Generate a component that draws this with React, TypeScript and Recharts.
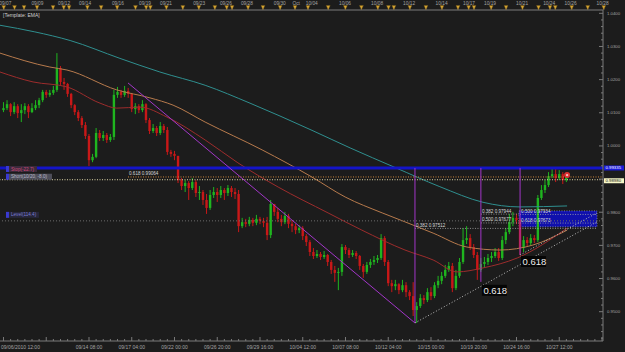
import React from 'react';
import { ComposedChart, Bar, Line, XAxis, YAxis, ReferenceLine, ReferenceArea, ReferenceDot } from 'recharts';

const BG = '#1c1c1c';
const AXIS = '#7a7a7a';
const TEXT = '#a4a4a4';
const BULL = '#1fb51f';
const BEAR = '#c81818';
const PURPLE = '#a236c8';
const FONT = '"Liberation Sans", Arial, sans-serif';

// 4H candles, open = previous close
const firstOpen = 1.0108;
const closes = [
  1.0114, 1.0126, 1.0102, 1.0120, 1.0099, 1.0108, 1.0120, 1.0102, 1.0114, 1.0123,
  1.0138, 1.0163, 1.0154, 1.0160, 1.0169, 1.0235, 1.0193, 1.0187, 1.0157, 1.0123,
  1.0102, 1.0084, 1.0063, 1.0030, 0.9957, 0.9967, 1.0039, 1.0024, 1.0033, 1.0018,
  1.0027, 1.0154, 1.0163, 1.0154, 1.0166, 1.0157, 1.0111, 1.0120, 1.0108, 1.0126,
  1.0078, 1.0045, 1.0054, 1.0039, 1.0060, 1.0048, 0.9982, 0.9976, 0.9970, 0.9897,
  0.9879, 0.9888, 0.9873, 0.9891, 0.9858, 0.9861, 0.9837, 0.9813, 0.9852, 0.9861,
  0.9852, 0.9867, 0.9858, 0.9873, 0.9861, 0.9855, 0.9758, 0.9770, 0.9765, 0.9777,
  0.9768, 0.9780, 0.9774, 0.9768, 0.9731, 0.9825, 0.9801, 0.9780, 0.9770, 0.9789,
  0.9765, 0.9758, 0.9746, 0.9752, 0.9728, 0.9710, 0.9680, 0.9668, 0.9674, 0.9665,
  0.9671, 0.9650, 0.9626, 0.9617, 0.9620, 0.9695, 0.9686, 0.9671, 0.9677, 0.9668,
  0.9638, 0.9620, 0.9641, 0.9650, 0.9656, 0.9662, 0.9722, 0.9650, 0.9586, 0.9577,
  0.9583, 0.9565, 0.9580, 0.9559, 0.9547, 0.9505, 0.9517, 0.9541, 0.9535, 0.9559,
  0.9547, 0.9580, 0.9593, 0.9608, 0.9626, 0.9638, 0.9571, 0.9608, 0.9650, 0.9716,
  0.9722, 0.9695, 0.9671, 0.9626, 0.9644, 0.9650, 0.9662, 0.9668, 0.9680, 0.9662,
  0.9716, 0.9740, 0.9770, 0.9783, 0.9777, 0.9692, 0.9716, 0.9707, 0.9722, 0.9716,
  0.9843, 0.9867, 0.9882, 0.9909, 0.9915, 0.9903, 0.9915, 0.9897, 0.9906,
];
const highs = [
  1.0132, 1.0138, 1.0129, 1.0132, 1.0126, 1.0126, 1.0129, 1.0126, 1.0129, 1.0138,
  1.0145, 1.0169, 1.0169, 1.0169, 1.0181, 1.0280, 1.0241, 1.0205, 1.0190, 1.0160,
  1.0126, 1.0108, 1.0090, 1.0072, 1.0036, 0.9976, 1.0054, 1.0048, 1.0045, 1.0039,
  1.0036, 1.0169, 1.0178, 1.0169, 1.0181, 1.0175, 1.0160, 1.0129, 1.0126, 1.0138,
  1.0129, 1.0084, 1.0066, 1.0060, 1.0072, 1.0066, 1.0057, 0.9988, 0.9985, 0.9970,
  0.9903, 0.9897, 0.9894, 0.9903, 0.9897, 0.9879, 0.9867, 0.9855, 0.9867, 0.9876,
  0.9873, 0.9879, 0.9873, 0.9882, 0.9879, 0.9873, 0.9867, 0.9783, 0.9780, 0.9786,
  0.9783, 0.9792, 0.9786, 0.9783, 0.9786, 0.9837, 0.9825, 0.9813, 0.9792, 0.9801,
  0.9795, 0.9777, 0.9765, 0.9761, 0.9758, 0.9734, 0.9716, 0.9692, 0.9686, 0.9680,
  0.9683, 0.9674, 0.9656, 0.9638, 0.9632, 0.9704, 0.9701, 0.9692, 0.9686, 0.9683,
  0.9671, 0.9644, 0.9650, 0.9659, 0.9668, 0.9671, 0.9734, 0.9728, 0.9656, 0.9596,
  0.9596, 0.9586, 0.9596, 0.9589, 0.9565, 0.9589, 0.9529, 0.9553, 0.9550, 0.9571,
  0.9574, 0.9589, 0.9608, 0.9620, 0.9641, 0.9650, 0.9647, 0.9626, 0.9662, 0.9752,
  0.9758, 0.9734, 0.9704, 0.9680, 0.9662, 0.9665, 0.9674, 0.9680, 0.9692, 0.9692,
  0.9728, 0.9752, 0.9795, 0.9801, 0.9795, 0.9783, 0.9728, 0.9725, 0.9734, 0.9731,
  0.9852, 0.9882, 0.9897, 0.9921, 0.9933, 0.9930, 0.9927, 0.9921, 0.9915,
];
const lows = [
  1.0102, 1.0108, 1.0090, 1.0096, 1.0084, 1.0072, 1.0096, 1.0084, 1.0099, 1.0108,
  1.0114, 1.0132, 1.0145, 1.0148, 1.0154, 1.0163, 1.0184, 1.0169, 1.0148, 1.0114,
  1.0093, 1.0075, 1.0054, 1.0021, 0.9939, 0.9951, 0.9963, 1.0015, 1.0015, 1.0009,
  1.0012, 1.0018, 1.0145, 1.0145, 1.0148, 1.0145, 1.0102, 1.0096, 1.0099, 1.0102,
  1.0069, 1.0036, 1.0039, 1.0030, 1.0033, 1.0039, 0.9973, 0.9967, 0.9957, 0.9888,
  0.9867, 0.9861, 0.9837, 0.9867, 0.9846, 0.9837, 0.9822, 0.9795, 0.9807, 0.9843,
  0.9831, 0.9843, 0.9837, 0.9849, 0.9846, 0.9840, 0.9740, 0.9752, 0.9755, 0.9758,
  0.9758, 0.9761, 0.9764, 0.9755, 0.9716, 0.9722, 0.9789, 0.9770, 0.9758, 0.9764,
  0.9752, 0.9740, 0.9734, 0.9737, 0.9716, 0.9698, 0.9668, 0.9659, 0.9662, 0.9656,
  0.9659, 0.9638, 0.9614, 0.9590, 0.9565, 0.9608, 0.9674, 0.9662, 0.9665, 0.9659,
  0.9626, 0.9602, 0.9614, 0.9632, 0.9641, 0.9647, 0.9656, 0.9638, 0.9577, 0.9559,
  0.9565, 0.9553, 0.9559, 0.9544, 0.9535, 0.9487, 0.9466, 0.9511, 0.9523, 0.9529,
  0.9535, 0.9541, 0.9571, 0.9583, 0.9602, 0.9620, 0.9559, 0.9565, 0.9602, 0.9644,
  0.9704, 0.9686, 0.9662, 0.9596, 0.9620, 0.9632, 0.9641, 0.9650, 0.9662, 0.9653,
  0.9656, 0.9704, 0.9734, 0.9758, 0.9764, 0.9671, 0.9680, 0.9698, 0.9701, 0.9707,
  0.9710, 0.9837, 0.9858, 0.9876, 0.9903, 0.9891, 0.9897, 0.9885, 0.9891,
];

// moving averages [candle index, price]
const emaSlow = [
  [-0.98, 1.0364], [8.8, 1.0344], [18.7, 1.0318], [32.7, 1.0264], [43.9, 1.0223], [56.6, 1.0183],
  [69.2, 1.0129], [86.6, 1.0047], [97.3, 0.9994], [109.9, 0.9935], [122.5, 0.9877], [134.6, 0.983],
  [145, 0.9816], [158.2, 0.9819],
];
const emaMid = [
  [-0.98, 1.028], [13, 1.0238], [17.8, 1.0229], [31.8, 1.0169], [41.1, 1.0145], [47.6, 1.0123],
  [56.6, 1.0072], [72.6, 0.9988], [86.6, 0.9906], [95.9, 0.9846], [106.3, 0.9798], [112.7, 0.9771],
  [120.6, 0.9737], [130.1, 0.9695], [139.4, 0.9686], [148.6, 0.9701], [158.2, 0.9746],
];
const emaFast = [
  [-0.98, 1.0223], [8.3, 1.0193], [17.8, 1.0178], [27.1, 1.0129], [31.8, 1.0114], [38.3, 1.0117],
  [45.9, 1.0087], [56.6, 1.0018], [65.8, 0.9949], [77.1, 0.9876], [91.1, 0.9798], [100.6, 0.9746],
  [112.7, 0.9686], [120.6, 0.9656], [127.3, 0.962], [134.6, 0.9632], [144.2, 0.9662], [158.2, 0.9752],
];

const timeLabels = ['09/06/2010 12:00', '09/14 08:00', '09/17 04:00', '09/22 00:00', '09/26 20:00', '09/29 16:00',
  '10/04 12:00', '10/07 08:00', '10/12 04:00', '10/15 00:00', '10/19 20:00', '10/24 16:00', '10/27 12:00'];
const timeLabelIdx = [0, 24, 36, 48, 60, 72, 84, 96, 108, 120, 132, 144, 156];

const calendarDates = ['09/07', '09/09', '09/12', '09/14', '09/16', '09/19', '09/21', '09/23', '09/26', '09/28',
  '09/30', 'Oct', '10/04', '10/06', '10/08', '10/12', '10/14', '10/17', '10/19', '10/21', '10/24', '10/26', '10/28'];
const calendarDateIdx = [1.4, 9.8, 16.8, 22.3, 30.9, 38.0, 43.5, 52.2, 59.2, 64.7, 73.3, 77.6, 81.7, 90.4, 98.8,
  107.2, 115.7, 122.9, 128.4, 136.8, 143.9, 149.5, 157.9];
const calendarEvents = [0.98, 3.8, 6.3, 9.7, 13.9, 16.7, 18.1, 22.9, 26.5, 30.7, 35.5, 38.3, 39.4, 43.6, 47.9,
  52.1, 56.3, 59.4, 60.8, 65.0, 68.9, 73.4, 77.3, 80.7, 86.0, 90.5, 94.7, 99.0, 101.8, 103.2, 107.4, 111.6,
  115.8, 120.0, 122.8, 124.2, 128.7, 132.6, 136.9, 141.1, 144.1, 145.5, 149.8, 154.0, 158.2];

const priceLabels = [0.95, 0.96, 0.97, 0.98, 1.0, 1.01, 1.02, 1.03, 1.04];

// drawn objects
const stopLevel = 0.99335;
const fibLevel = 0.99064;
const shortLevel = 0.9898;
const levelLine = 0.9774;
const swingHigh = { i: 34.95, p: 1.019 };
const swingLow = { i: 115.5, p: 0.9466 };
const pivotA = { i: 134, p: 0.959 };
const pivotB = { i: 145, p: 0.9671 };
const zone = { i1: 144.7, i2: 166.6, p1: 0.9756, p2: 0.9804 };
const fibNotes = [
  { text: '0.382 0.97512', i: 115.5, p: 0.97512, end: 166.6 },
  { text: '0.382 0.97944', i: 134, p: 0.97944, end: 144.7 },
  { text: '0.500 0.97677', i: 134, p: 0.97677, end: 144.7 },
  { text: '0.500 0.97934', i: 145, p: 0.97934, end: 166.6 },
  { text: '0.618 0.97673', i: 145, p: 0.97673, end: 166.6 },
];

const X_DOMAIN: [number, number] = [-0.98, 168.28];
const Y_DOMAIN: [number, number] = [0.94116, 1.041];

const candles = closes.map((close, i) => ({
  i,
  open: i === 0 ? firstOpen : closes[i - 1],
  close,
  high: highs[i],
  low: lows[i],
}));
const toPts = (arr: number[][]) => arr.map(([i, v]) => ({ i, v }));

const yTicks: number[] = [];
for (let k = 471; k <= 520; k++) yTicks.push(k / 500);
const bottomTicks: number[] = [];
for (let k = 0; k <= 168; k += 2) bottomTicks.push(k);
const topTicks = [...calendarEvents, ...calendarDateIdx];

const Candle = (props: any) => {
  const { x, y, width, height } = props;
  const d = props.payload || props;
  const top = Math.min(y, y + height);
  const h = Math.abs(height);
  const k = d.high - d.low > 0 ? h / (d.high - d.low) : 0;
  const yO = top + (d.high - d.open) * k;
  const yC = top + (d.high - d.close) * k;
  const color = d.close >= d.open ? BULL : BEAR;
  const cx = x + width / 2;
  return (
    <g>
      <line x1={cx} x2={cx} y1={top} y2={top + h} stroke={color} strokeWidth={1} />
      <rect x={cx - 1.2} y={Math.min(yO, yC)} width={2.4} height={Math.max(1, Math.abs(yC - yO))} fill={color} />
    </g>
  );
};

const PriceTick = ({ x, y, payload }: any) => {
  const v = payload.value;
  const major = priceLabels.some((p) => Math.abs(p - v) < 1e-6);
  const tenth = Math.abs(v * 100 - Math.round(v * 100)) < 1e-6;
  return (
    <g>
      <line x1={x - (tenth ? 4 : 2)} x2={x} y1={y} y2={y} stroke={AXIS} strokeWidth={1} />
      {major && (
        <text x={x + 4} y={y + 1.5} fontSize={4.3} fill={TEXT} fontFamily={FONT}>{v.toFixed(4)}</text>
      )}
    </g>
  );
};

const TimeTick = ({ x, y, payload }: any) => {
  const v = payload.value;
  const k = timeLabelIdx.indexOf(v);
  const major = v % 12 === 0;
  return (
    <g>
      <line x1={x} x2={x} y1={y} y2={y - (major ? 4 : 2)} stroke={AXIS} strokeWidth={1} />
      {k >= 0 && (
        <text x={k === 0 ? 1 : x} y={y + 7.5} textAnchor={k === 0 ? 'start' : 'middle'} fontSize={5}
          fill={TEXT} fontFamily={FONT}>{timeLabels[k]}</text>
      )}
    </g>
  );
};

const CalendarTick = ({ x, payload }: any) => {
  const v = payload.value;
  const k = calendarDateIdx.indexOf(v);
  if (k >= 0) {
    return (
      <text x={x} y={4.6} textAnchor="middle" fontSize={4.8} fill={TEXT} fontFamily={FONT}>{calendarDates[k]}</text>
    );
  }
  return (
    <g>
      <line x1={x} x2={x} y1={8} y2={10} stroke={AXIS} />
      <polygon points={`${x - 2},5.5 ${x + 2},5.5 ${x},9.8`} fill="#d6a532" stroke="#6b5216" strokeWidth={0.4} />
    </g>
  );
};

const tagBox = (label: string, fill: string, color: string, w: number, dy: number) => (p: any) => (
  <g>
    <rect x={p.cx} y={p.cy + dy} width={3} height={6} fill="#3a3ad0" />
    <rect x={p.cx + 3} y={p.cy + dy} width={w} height={6} fill={fill} />
    <text x={p.cx + 5} y={p.cy + dy + 4.6} fontSize={4.6} fill={color} fontFamily={FONT}>{label}</text>
  </g>
);

const priceBox = (label: string, fill: string, color: string, dy: number) => (p: any) => (
  <g>
    <rect x={p.cx + 1} y={p.cy + dy} width={20} height={5} fill={fill} />
    <text x={p.cx + 2.5} y={p.cy + dy + 4} fontSize={4.3} fill={color} fontFamily={FONT}>{label}</text>
  </g>
);

const goldenTag = (dy: number) => (p: any) => (
  <g>
    <rect x={p.cx + 1} y={p.cy + dy} width={25} height={11} fill="#050505" />
    <text x={p.cx + 2.5} y={p.cy + dy + 9} fontSize={9.5} fill="#eeeeee" fontFamily={FONT}>0.618</text>
  </g>
);

const smallText = (label: string, color: string, dy: number) => (p: any) => (
  <text x={p.cx + 1} y={p.cy + dy} fontSize={4.6} fill={color} fontFamily={FONT}>{label}</text>
);

export default function App() {
  return (
    <div style={{ position: 'absolute', left: 0, top: 0, width: 625, height: 352, background: BG, overflow: 'hidden' }}>
      <ComposedChart width={625} height={352} data={candles} margin={{ top: 0, right: 0, bottom: 0, left: 0 }}>
        <XAxis dataKey="i" type="number" domain={X_DOMAIN} allowDataOverflow ticks={bottomTicks} interval={0}
          height={11} tick={(p: any) => <TimeTick {...p} />} tickLine={false} tickSize={0} tickMargin={0}
          axisLine={{ stroke: AXIS }} />
        <XAxis xAxisId="top" orientation="top" type="number" domain={X_DOMAIN} allowDataOverflow ticks={topTicks}
          interval={0} height={10} tick={(p: any) => <CalendarTick {...p} />} tickLine={false} tickSize={0}
          tickMargin={0} axisLine={{ stroke: AXIS }} />
        <YAxis orientation="right" type="number" domain={Y_DOMAIN} allowDataOverflow ticks={yTicks} interval={0}
          width={22} tick={(p: any) => <PriceTick {...p} />} tickLine={false} tickSize={0} tickMargin={0}
          axisLine={{ stroke: AXIS }} />

        <ReferenceArea x1={zone.i1} x2={zone.i2} y1={zone.p1} y2={zone.p2} fill="#1010b4" fillOpacity={0.95}
          stroke="#8a8ae0" strokeDasharray="1 1.5" strokeWidth={0.8} ifOverflow="visible" />

        <Bar dataKey={(d: any) => [d.low, d.high]} shape={(p: any) => <Candle {...p} />} barSize={3}
          isAnimationActive={false} />

        <Line data={toPts(emaSlow)} dataKey="v" type="monotone" stroke="#2f8f8f" strokeWidth={1} dot={false}
          isAnimationActive={false} />
        <Line data={toPts(emaMid)} dataKey="v" type="monotone" stroke="#b77a4c" strokeWidth={1} dot={false}
          isAnimationActive={false} />
        <Line data={toPts(emaFast)} dataKey="v" type="monotone" stroke="#9c2c2c" strokeWidth={1} dot={false}
          isAnimationActive={false} />

        <ReferenceLine y={levelLine} stroke="#6c6c6c" strokeDasharray="1 2" />
        <ReferenceLine y={shortLevel} stroke="#ddd6a6" strokeDasharray="1 1.5" />
        <ReferenceLine segment={[{ x: swingHigh.i, y: fibLevel }, { x: X_DOMAIN[1], y: fibLevel }]}
          stroke="#c8843c" strokeDasharray="1 1.5" />
        <ReferenceLine y={stopLevel} stroke="#1414c8" strokeWidth={3} />

        {fibNotes.map((f) => (
          <ReferenceLine key={f.text} segment={[{ x: f.i, y: f.p }, { x: f.end, y: f.p }]} stroke="#a8a8a8"
            strokeDasharray="1 1.5" strokeWidth={0.8} />
        ))}

        <ReferenceLine segment={[{ x: swingHigh.i, y: swingHigh.p }, { x: swingLow.i, y: swingLow.p }]}
          stroke={PURPLE} />
        <ReferenceLine segment={[{ x: swingLow.i, y: stopLevel }, { x: swingLow.i, y: swingLow.p }]} stroke={PURPLE} />
        <ReferenceLine segment={[{ x: pivotA.i, y: stopLevel }, { x: pivotA.i, y: pivotA.p }]} stroke={PURPLE} />
        <ReferenceLine segment={[{ x: pivotB.i, y: stopLevel }, { x: pivotB.i, y: pivotB.p }]} stroke={PURPLE} />
        <ReferenceLine segment={[{ x: swingLow.i, y: swingLow.p }, { x: zone.i2, y: 0.9771 }]} stroke="#bdbdbd"
          strokeDasharray="1 2" />
        <ReferenceLine segment={[{ x: pivotB.i, y: pivotB.p }, { x: zone.i2, y: 0.9798 }]} stroke="#bdbdbd"
          strokeDasharray="1 2" />

        {fibNotes.map((f) => (
          <ReferenceDot key={'t' + f.text} x={f.i} y={f.p} r={1} ifOverflow="visible"
            shape={smallText(f.text, '#d8d8d8', -1.5)} />
        ))}
        <ReferenceDot x={swingHigh.i} y={fibLevel} r={1} ifOverflow="visible"
          shape={smallText('0.618 0.99064', '#d8d8d8', -1.8)} />

        <ReferenceDot x={pivotA.i} y={pivotA.p} r={1} ifOverflow="visible" shape={goldenTag(3)} />
        <ReferenceDot x={pivotB.i} y={pivotB.p} r={1} ifOverflow="visible" shape={goldenTag(1)} />

        <ReferenceDot x={0.7} y={stopLevel} r={1} ifOverflow="visible"
          shape={tagBox('Stop(-22.7)', '#3a2a3c', '#d04a7a', 28, -2)} />
        <ReferenceDot x={0.7} y={shortLevel} r={1} ifOverflow="visible"
          shape={tagBox('Short(10/20, -8.0)', '#4e4e5a', '#b4b4c4', 43, -6)} />
        <ReferenceDot x={0.7} y={levelLine} r={1} ifOverflow="visible"
          shape={tagBox('Level(114.4)', '#26263a', '#7c7cd4', 30, -9)} />

        <ReferenceDot x={X_DOMAIN[1]} y={stopLevel} r={1} ifOverflow="visible"
          shape={priceBox('0.99335', '#1a1ad8', '#ffffff', -2.5)} />
        <ReferenceDot x={X_DOMAIN[1]} y={shortLevel} r={1} ifOverflow="visible"
          shape={priceBox('0.98980', '#f6f6c6', '#111111', -1.5)} />

        <ReferenceDot x={158.2} y={0.9912} r={1} ifOverflow="visible"
          shape={(p: any) => (
            <g>
              <circle cx={p.cx} cy={p.cy} r={3} fill="#e03030" />
              <circle cx={p.cx} cy={p.cy} r={1.2} fill="#f5c0c0" />
            </g>
          )} />

        <ReferenceDot x={X_DOMAIN[0]} y={Y_DOMAIN[1]} r={1} ifOverflow="visible"
          shape={(p: any) => (
            <text x={p.cx + 3} y={p.cy + 6.5} fontSize={5} fill="#d0d0d0" fontFamily={FONT}>[Template: EMA]</text>
          )} />
      </ComposedChart>
    </div>
  );
}
